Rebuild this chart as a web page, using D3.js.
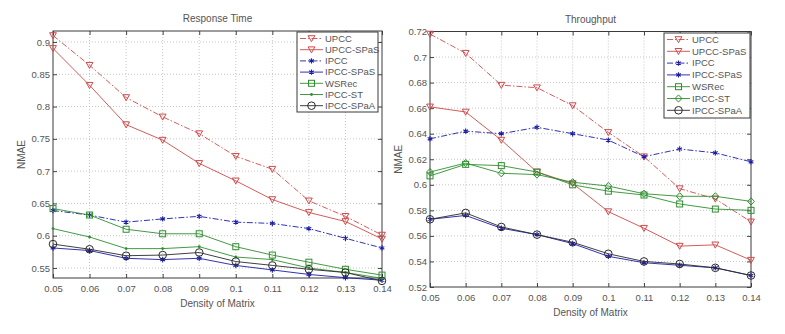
<!DOCTYPE html>
<html><head><meta charset="utf-8">
<script src="https://cdn.jsdelivr.net/npm/d3@7"></script>
<style>body{margin:0;background:#fff}svg{display:block;font-family:"Liberation Sans",Arial,sans-serif}</style>
</head><body><svg id="c" width="785" height="334"></svg>
<script>
// ---------------- data ----------------
const densities = [0.05,0.06,0.07,0.08,0.09,0.10,0.11,0.12,0.13,0.14];
const seriesNames = ["UPCC","UPCC-SPaS","IPCC","IPCC-SPaS","WSRec","IPCC-ST","IPCC-SPaA"];

// Response Time (NMAE)
const rtUPCC     = [0.910,0.864,0.814,0.784,0.758,0.723,0.703,0.654,0.630,0.601];
const rtUPCCSPaS = [0.890,0.833,0.772,0.748,0.712,0.685,0.656,0.636,0.622,0.595];
const rtIPCC     = [0.639,0.632,0.621,0.626,0.630,0.621,0.619,0.611,0.596,0.581];
const rtIPCCSPaS = [0.581,0.577,0.565,0.563,0.565,0.554,0.547,0.540,0.535,0.531];
const rtWSRec    = [0.642,0.632,0.610,0.603,0.603,0.583,0.570,0.559,0.548,0.539];
const rtIPCCST   = [0.611,0.598,0.580,0.580,0.583,0.567,0.563,0.550,0.543,0.534];
const rtIPCCSPaA = [0.587,0.579,0.569,0.570,0.574,0.560,0.554,0.548,0.543,0.530];

// Throughput (NMAE)
const tpUPCC     = [0.718,0.703,0.678,0.676,0.662,0.641,0.622,0.597,0.589,0.571];
const tpUPCCSPaS = [0.661,0.657,0.635,0.610,0.601,0.579,0.566,0.552,0.553,0.541];
const tpIPCC     = [0.636,0.642,0.640,0.645,0.640,0.635,0.622,0.628,0.625,0.618];
const tpIPCCSPaS = [0.573,0.576,0.566,0.561,0.554,0.544,0.539,0.537,0.535,0.529];
const tpWSRec    = [0.607,0.616,0.615,0.610,0.600,0.595,0.592,0.585,0.581,0.580];
const tpIPCCST   = [0.610,0.617,0.609,0.608,0.602,0.599,0.593,0.591,0.591,0.587];
const tpIPCCSPaA = [0.573,0.578,0.567,0.561,0.555,0.546,0.540,0.538,0.535,0.529];

const xTicks = [0.05,0.06,0.07,0.08,0.09,0.10,0.11,0.12,0.13,0.14];
const rtYTicks = [0.55,0.6,0.65,0.7,0.75,0.8,0.85,0.9];
const tpYTicks = [0.52,0.54,0.56,0.58,0.6,0.62,0.64,0.66,0.68,0.7,0.72];

// ---------------- styles ----------------
const RED="#cf4a4a", BLUE="#1c1ca8", GREEN="#2f8f2f", BLACK="#2a2a2a";
const DASHDOT="6,2,1.5,2";
const TXT="#555";
const fmt = d => String(+d.toFixed(2));

const svg = d3.select("#c");

function marker(g, type, color, x, y){
  if(type==="tri"){
    g.append("path").attr("d",`M${x-3.4},${y-2.8} L${x+3.4},${y-2.8} L${x},${y+3.2} Z`)
      .attr("fill","none").attr("stroke",color).attr("stroke-width",1);
  } else if(type==="star"){
    g.append("path").attr("d",d3.symbol(d3.symbolAsterisk,20)()).attr("transform",`translate(${x},${y})`)
      .attr("fill","none").attr("stroke",color).attr("stroke-width",1.1);
  } else if(type==="sq"){
    g.append("rect").attr("x",x-3).attr("y",y-3).attr("width",6).attr("height",6)
      .attr("fill","none").attr("stroke",color).attr("stroke-width",1);
  } else if(type==="dot"){
    g.append("circle").attr("cx",x).attr("cy",y).attr("r",1.4).attr("fill",color);
  } else if(type==="circ"){
    g.append("circle").attr("cx",x).attr("cy",y).attr("r",3.8)
      .attr("fill","none").attr("stroke",color).attr("stroke-width",1);
  } else if(type==="dia"){
    g.append("path").attr("d",`M${x},${y-3.6} L${x+3.4},${y} L${x},${y+3.6} L${x-3.4},${y} Z`)
      .attr("fill","none").attr("stroke",color).attr("stroke-width",1);
  }
}

function drawChart(cfg){
  const {x0,x1,y0,y1,yDomain,yTicks,title,series,legend} = cfg;
  const x = d3.scaleLinear().domain([0.05,0.14]).range([x0,x1]);
  const y = d3.scaleLinear().domain(yDomain).range([y1,y0]);
  const g = svg.append("g");

  // grid
  const grid = g.append("g").attr("stroke","#b8b8b8").attr("stroke-width",0.8).attr("stroke-dasharray","1,2");
  xTicks.forEach(t=>{ if(t>0.05 && t<0.14) grid.append("line").attr("x1",x(t)).attr("x2",x(t)).attr("y1",y0).attr("y2",y1); });
  yTicks.forEach(t=>{ const yy=y(t); if(yy>y0+1 && yy<y1-1) grid.append("line").attr("x1",x0).attr("x2",x1).attr("y1",yy).attr("y2",yy); });

  // axes
  const ax = g.append("g").attr("transform",`translate(0,${y1})`)
    .call(d3.axisBottom(x).tickValues(xTicks).tickFormat(fmt).tickSize(-4).tickPadding(7));
  const ay = g.append("g").attr("transform",`translate(${x0},0)`)
    .call(d3.axisLeft(y).tickValues(yTicks).tickFormat(fmt).tickSize(-4).tickPadding(3));
  const axT = g.append("g").attr("transform",`translate(0,${y0})`)
    .call(d3.axisTop(x).tickValues(xTicks).tickFormat("").tickSize(-4));
  const ayR = g.append("g").attr("transform",`translate(${x1},0)`)
    .call(d3.axisRight(y).tickValues(yTicks).tickFormat("").tickSize(-4));
  [ax,ay,axT,ayR].forEach(a=>{
    a.select(".domain").remove();
    a.selectAll("line").attr("stroke","#444");
    a.selectAll("text").attr("fill",TXT).style("font-size","9.5px").style("font-family","'Liberation Sans',Arial,sans-serif");
  });
  g.append("rect").attr("x",x0).attr("y",y0).attr("width",x1-x0).attr("height",y1-y0)
    .attr("fill","none").attr("stroke","#3a3a3a").attr("stroke-width",1);

  // labels
  g.append("text").attr("x",(x0+x1)/2).attr("y",y0-9).attr("text-anchor","middle")
    .attr("fill",TXT).style("font-size","10px").text(title);
  g.append("text").attr("x",(x0+x1)/2).attr("y",y1+29).attr("text-anchor","middle")
    .attr("fill",TXT).style("font-size","10px").text("Density of Matrix");
  g.append("text").attr("transform",`translate(${x0-28},${(y0+y1)/2}) rotate(-90)`).attr("text-anchor","middle")
    .attr("fill",TXT).style("font-size","10px").text("NMAE");

  // series
  const line = d3.line().x((d,i)=>x(densities[i])).y(d=>y(d));
  series.forEach(s=>{
    g.append("path").datum(s.values).attr("d",line).attr("fill","none")
      .attr("stroke",s.color).attr("stroke-width",0.9).attr("stroke-dasharray",s.dash||null);
    const mg = g.append("g");
    s.values.forEach((v,i)=>marker(mg,s.marker,s.color,x(densities[i]),y(v)));
  });

  // legend
  const {lx,ly,lw,lh,step} = legend;
  const lg = g.append("g");
  lg.append("rect").attr("x",lx).attr("y",ly).attr("width",lw).attr("height",lh)
    .attr("fill","#fff").attr("stroke","#3a3a3a").attr("stroke-width",1);
  series.forEach((s,i)=>{
    const yy = ly+6.5+i*step;
    lg.append("line").attr("x1",lx+3).attr("x2",lx+26).attr("y1",yy).attr("y2",yy)
      .attr("stroke",s.color).attr("stroke-width",0.9).attr("stroke-dasharray",s.dash||null);
    marker(lg,s.marker,s.color,lx+14.5,yy);
    lg.append("text").attr("x",lx+28).attr("y",yy).attr("dy","0.35em")
      .attr("fill",TXT).style("font-size","9.5px").text(seriesNames[i]);
  });
}

drawChart({
  x0:53,x1:382,y0:31,y1:278,yDomain:[0.5345,0.917],yTicks:rtYTicks,title:"Response Time",
  legend:{lx:297,ly:32,lw:81,lh:80,step:11.2},
  series:[
    {values:rtUPCC,color:RED,dash:DASHDOT,marker:"tri"},
    {values:rtUPCCSPaS,color:RED,marker:"tri"},
    {values:rtIPCC,color:BLUE,dash:DASHDOT,marker:"star"},
    {values:rtIPCCSPaS,color:BLUE,marker:"star"},
    {values:rtWSRec,color:GREEN,marker:"sq"},
    {values:rtIPCCST,color:GREEN,marker:"dot"},
    {values:rtIPCCSPaA,color:BLACK,marker:"circ"}
  ]
});

drawChart({
  x0:430,x1:751,y0:31.5,y1:287,yDomain:[0.52,0.72],yTicks:tpYTicks,title:"Throughput",
  legend:{lx:664,ly:33,lw:86,lh:85,step:11.8},
  series:[
    {values:tpUPCC,color:RED,dash:DASHDOT,marker:"tri"},
    {values:tpUPCCSPaS,color:RED,marker:"tri"},
    {values:tpIPCC,color:BLUE,dash:DASHDOT,marker:"star"},
    {values:tpIPCCSPaS,color:BLUE,marker:"star"},
    {values:tpWSRec,color:GREEN,marker:"sq"},
    {values:tpIPCCST,color:GREEN,marker:"dia"},
    {values:tpIPCCSPaA,color:BLACK,marker:"circ"}
  ]
});
</script></body></html>
